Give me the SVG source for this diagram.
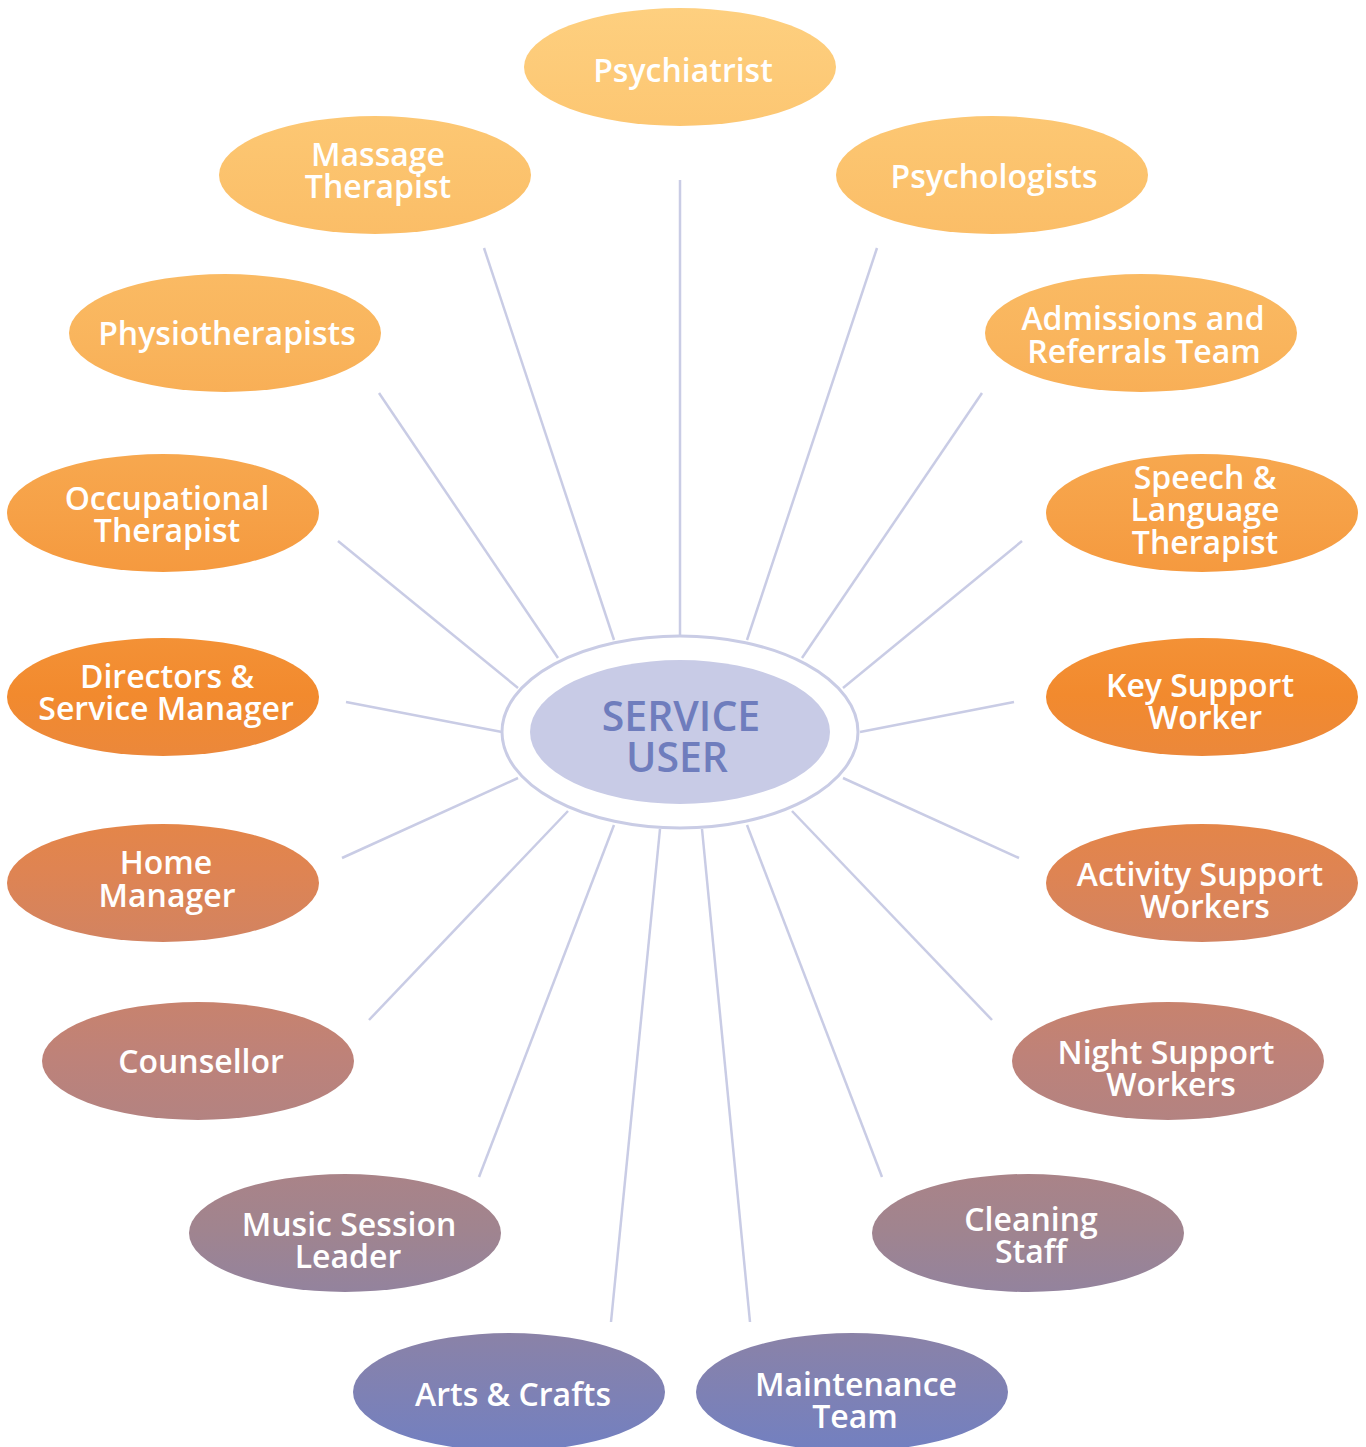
<svg xmlns="http://www.w3.org/2000/svg" width="1366" height="1447" viewBox="0 0 1366 1447">
<defs>
<linearGradient id="g" gradientUnits="userSpaceOnUse" x1="0" y1="0" x2="0" y2="1447">
<stop offset="0" stop-color="#FED080"/>
<stop offset="0.1" stop-color="#FCC570"/>
<stop offset="0.24" stop-color="#F9B45C"/>
<stop offset="0.36" stop-color="#F6A046"/>
<stop offset="0.48" stop-color="#F28A2E"/>
<stop offset="0.6" stop-color="#DF8452"/>
<stop offset="0.73" stop-color="#BE8279"/>
<stop offset="0.85" stop-color="#A0848F"/>
<stop offset="0.93" stop-color="#8882AA"/>
<stop offset="1" stop-color="#7380C0"/>
</linearGradient>
</defs>
<style>
.n{fill:url(#g)}
.t{fill:#fff;font-family:"Open Sans","DejaVu Sans",sans-serif;font-weight:600;font-size:32px;text-anchor:middle}
.c line{stroke:#C9CCE5;stroke-width:2.5}
.ct{fill:#6F7DBD;font-family:"Open Sans","DejaVu Sans",sans-serif;font-weight:600;font-size:41px;text-anchor:middle}
</style>
<rect width="1366" height="1447" fill="#fff"/>
<g id="connectors" class="c">
<line x1="680" y1="180" x2="680" y2="636"/>
<line x1="484" y1="248" x2="614" y2="640"/>
<line x1="877" y1="248" x2="747" y2="640"/>
<line x1="379" y1="393" x2="558" y2="658"/>
<line x1="982" y1="393" x2="802" y2="658"/>
<line x1="338" y1="541" x2="518" y2="688"/>
<line x1="1022" y1="541" x2="843" y2="688"/>
<line x1="346" y1="702" x2="502" y2="732"/>
<line x1="1014" y1="702" x2="860" y2="732"/>
<line x1="342" y1="858" x2="518" y2="778"/>
<line x1="1019" y1="858" x2="843" y2="778"/>
<line x1="369" y1="1020" x2="568" y2="811"/>
<line x1="992" y1="1020" x2="792" y2="811"/>
<line x1="479" y1="1177" x2="614" y2="825"/>
<line x1="882" y1="1177" x2="747" y2="825"/>
<line x1="611" y1="1322" x2="660" y2="829"/>
<line x1="750" y1="1322" x2="702" y2="829"/>
</g>
<g id="service-user">
<ellipse cx="680" cy="732" rx="178" ry="96" fill="#fff" stroke="#C9CCE5" stroke-width="3"/>
<ellipse cx="680" cy="732" rx="150" ry="72" fill="#C8CBE6"/>
<text class="ct" x="681" y="731">SERVICE</text>
<text class="ct" x="677" y="772">USER</text>
</g>
<g id="psychiatrist"><ellipse class="n" cx="680" cy="67" rx="156" ry="59"/><text class="t" x="683" y="82">Psychiatrist</text></g>
<g id="massage-therapist"><ellipse class="n" cx="375" cy="175" rx="156" ry="59"/><text class="t" x="378" y="166">Massage</text><text class="t" x="378" y="198">Therapist</text></g>
<g id="psychologists"><ellipse class="n" cx="992" cy="175" rx="156" ry="59"/><text class="t" x="994" y="188">Psychologists</text></g>
<g id="physiotherapists"><ellipse class="n" cx="225" cy="333" rx="156" ry="59"/><text class="t" x="227" y="345">Physiotherapists</text></g>
<g id="admissions"><ellipse class="n" cx="1141" cy="333" rx="156" ry="59"/><text class="t" x="1143" y="330">Admissions and</text><text class="t" x="1144" y="363">Referrals Team</text></g>
<g id="occupational-therapist"><ellipse class="n" cx="163" cy="513" rx="156" ry="59"/><text class="t" x="167" y="510">Occupational</text><text class="t" x="167" y="542">Therapist</text></g>
<g id="speech-language"><ellipse class="n" cx="1202" cy="513" rx="156" ry="59"/><text class="t" x="1205" y="489">Speech &amp;</text><text class="t" x="1205" y="521">Language</text><text class="t" x="1205" y="554">Therapist</text></g>
<g id="directors"><ellipse class="n" cx="163" cy="697" rx="156" ry="59"/><text class="t" x="167" y="688">Directors &amp;</text><text class="t" x="166" y="720">Service Manager</text></g>
<g id="key-support"><ellipse class="n" cx="1202" cy="697" rx="156" ry="59"/><text class="t" x="1200" y="697">Key Support</text><text class="t" x="1205" y="729">Worker</text></g>
<g id="home-manager"><ellipse class="n" cx="163" cy="883" rx="156" ry="59"/><text class="t" x="166" y="874">Home</text><text class="t" x="167" y="907">Manager</text></g>
<g id="activity-support"><ellipse class="n" cx="1202" cy="883" rx="156" ry="59"/><text class="t" x="1200" y="886">Activity Support</text><text class="t" x="1205" y="918">Workers</text></g>
<g id="counsellor"><ellipse class="n" cx="198" cy="1061" rx="156" ry="59"/><text class="t" x="201" y="1073">Counsellor</text></g>
<g id="night-support"><ellipse class="n" cx="1168" cy="1061" rx="156" ry="59"/><text class="t" x="1166" y="1064">Night Support</text><text class="t" x="1171" y="1096">Workers</text></g>
<g id="music-session"><ellipse class="n" cx="345" cy="1233" rx="156" ry="59"/><text class="t" x="349" y="1236">Music Session</text><text class="t" x="348" y="1268">Leader</text></g>
<g id="cleaning-staff"><ellipse class="n" cx="1028" cy="1233" rx="156" ry="59"/><text class="t" x="1031" y="1231">Cleaning</text><text class="t" x="1031" y="1263">Staff</text></g>
<g id="arts-crafts"><ellipse class="n" cx="509" cy="1392" rx="156" ry="59"/><text class="t" x="513" y="1406">Arts &amp; Crafts</text></g>
<g id="maintenance"><ellipse class="n" cx="852" cy="1392" rx="156" ry="59"/><text class="t" x="856" y="1396">Maintenance</text><text class="t" x="855" y="1428">Team</text></g>
</svg>
